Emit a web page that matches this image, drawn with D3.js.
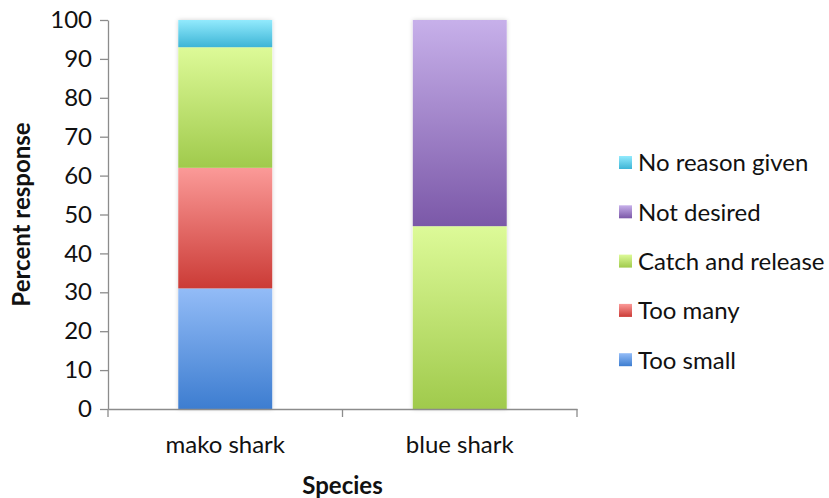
<!DOCTYPE html>
<html>
<head>
<meta charset="utf-8">
<script src="https://cdn.jsdelivr.net/npm/d3@7"></script>
<style>
  html, body { margin: 0; padding: 0; background: #fff; }
  svg { display: block; font-family: Lato, "Open Sans", sans-serif; }
</style>
</head>
<body>
<svg id="chart" width="829" height="498"></svg>
<script>
// Reasons for releasing sharks, by species (percent of responses)
const species = ["mako shark", "blue shark"];
const reasons = ["Too small", "Too many", "Catch and release", "Not desired", "No reason given"];
const tooSmall        = [31, 0];
const tooMany         = [31, 0];
const catchAndRelease = [31, 47];
const notDesired      = [0, 53];
const noReasonGiven   = [7, 0];
const yTicks = [0, 10, 20, 30, 40, 50, 60, 70, 80, 90, 100];

// gradient stops per series: [top, bottom]
const shades = {
  "Too small":         ["#93bcf7", "#3d7dd0"],
  "Too many":          ["#fb9a98", "#cb3b36"],
  "Catch and release": ["#ddfa98", "#a0ca4c"],
  "Not desired":       ["#c7b0ea", "#7b58a8"],
  "No reason given":   ["#92eafd", "#3db5d6"]
};

const seriesValues = [tooSmall, tooMany, catchAndRelease, notDesired, noReasonGiven];
const rows = species.map((s, i) => {
  const r = { species: s };
  reasons.forEach((k, j) => r[k] = seriesValues[j][i]);
  return r;
});

const svg = d3.select("#chart");
const fontSize = "24px";
const margin = { left: 108, top: 20 };

const x = d3.scaleBand().domain(species).range([margin.left, 577]).paddingInner(0).paddingOuter(0);
const y = d3.scaleLinear().domain([0, 100]).range([409, margin.top]);
const barW = 94;

const defs = svg.append("defs");
reasons.forEach((k, i) => {
  const g = defs.append("linearGradient").attr("id", "grad" + i)
    .attr("x1", 0).attr("y1", 0).attr("x2", 0).attr("y2", 1);
  g.append("stop").attr("offset", "0%").attr("stop-color", shades[k][0]);
  g.append("stop").attr("offset", "100%").attr("stop-color", shades[k][1]);
});
const shadow = defs.append("filter").attr("id", "shadow")
  .attr("x", "-10%").attr("y", "-5%").attr("width", "120%").attr("height", "110%");
shadow.append("feDropShadow").attr("dx", 0).attr("dy", 0).attr("stdDeviation", 2)
  .attr("flood-color", "#000").attr("flood-opacity", 0.18);

const stack = d3.stack().keys(reasons)(rows);

// shadow behind each whole bar
svg.append("g").selectAll("rect").data(rows).join("rect")
  .attr("x", d => x(d.species) + x.bandwidth() / 2 - barW / 2)
  .attr("width", barW)
  .attr("y", d => y(d3.sum(reasons, k => d[k])))
  .attr("height", d => y(0) - y(d3.sum(reasons, k => d[k])))
  .attr("fill", "#fff")
  .attr("filter", "url(#shadow)");

svg.append("g").selectAll("g").data(stack).join("g")
  .attr("fill", (d, i) => `url(#grad${i})`)
  .selectAll("rect").data(d => d.filter(s => s[1] - s[0] > 0)).join("rect")
  .attr("x", d => x(d.data.species) + x.bandwidth() / 2 - barW / 2)
  .attr("width", barW)
  .attr("y", d => y(d[1]))
  .attr("height", d => y(d[0]) - y(d[1]));

// axes
const axisColor = "#8c8c8c";
const yAxis = svg.append("g").attr("transform", `translate(${margin.left},0)`)
  .call(d3.axisLeft(y).tickValues(yTicks).tickSize(8).tickPadding(8).tickSizeOuter(0));
const xAxis = svg.append("g").attr("transform", `translate(0,${y(0)})`)
  .call(d3.axisBottom(x).tickSize(0).tickPadding(27));
// category boundary ticks
svg.append("g").selectAll("line")
  .data([x.range()[0], x(species[1]), x.range()[1]]).join("line")
  .attr("x1", d => d).attr("x2", d => d)
  .attr("y1", y(0)).attr("y2", y(0) + 8)
  .attr("stroke", axisColor).attr("stroke-width", 1.3);

[yAxis, xAxis].forEach(a => {
  a.select(".domain").attr("stroke", axisColor).attr("stroke-width", 1.3);
  a.selectAll(".tick line").attr("stroke", axisColor).attr("stroke-width", 1.3);
  a.selectAll("text").attr("fill", "#111").style("font-size", fontSize)
    .style("font-family", "Lato, 'Open Sans', sans-serif");
});

// axis titles
svg.append("text")
  .attr("transform", `translate(30,${(y(0) + y(100)) / 2}) rotate(-90)`)
  .attr("text-anchor", "middle")
  .style("font-size", fontSize).style("font-weight", "bold").attr("fill", "#111")
  .text("Percent response");
svg.append("text")
  .attr("x", x.range()[0] + (x.range()[1] - x.range()[0]) / 2).attr("y", 494)
  .attr("text-anchor", "middle")
  .style("font-size", fontSize).style("font-weight", "bold").attr("fill", "#111")
  .text("Species");

// legend, top entry is the last series
const legendOrder = reasons.slice().reverse();
const lg = svg.append("g").selectAll("g").data(legendOrder).join("g")
  .attr("transform", (d, i) => `translate(619,${163 + i * 49.3})`);
lg.append("rect").attr("x", 0).attr("y", -7).attr("width", 13).attr("height", 13)
  .attr("fill", d => `url(#grad${reasons.indexOf(d)})`);
lg.append("text").attr("x", 19).attr("y", 0).attr("dy", "0.35em")
  .style("font-size", fontSize).attr("fill", "#111")
  .text(d => d);
</script>
</body>
</html>
